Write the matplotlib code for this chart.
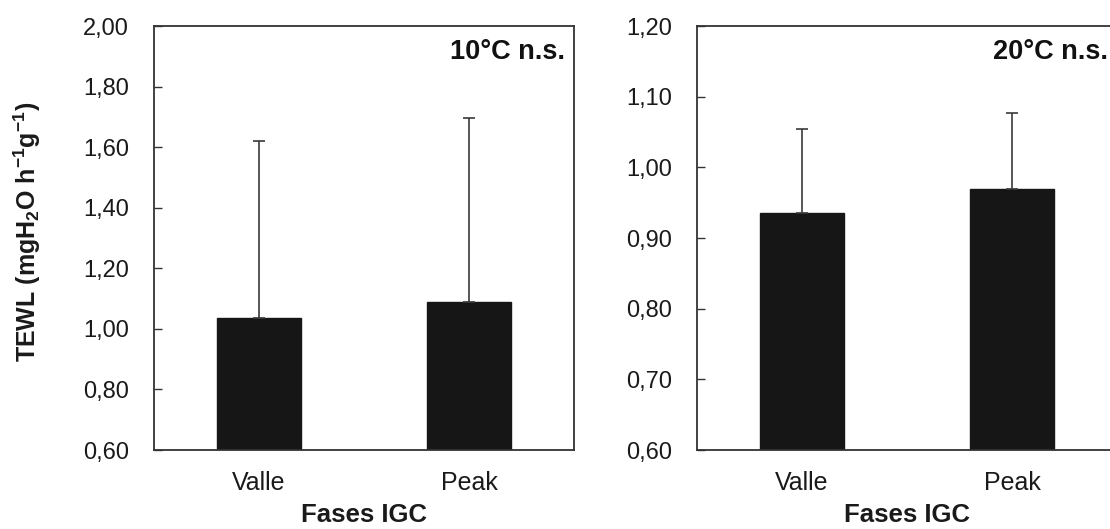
import matplotlib
matplotlib.use('Agg')
import matplotlib.pyplot as plt
from matplotlib.transforms import blended_transform_factory

plt.rcParams['font.family'] = ['Liberation Sans', 'DejaVu Sans']
plt.rcParams['mathtext.fontset'] = 'custom'
plt.rcParams['mathtext.rm'] = 'Liberation Sans:bold'
plt.rcParams['mathtext.bf'] = 'Liberation Sans:bold'

# data
phases = ['Valle', 'Peak']
tewl_10 = [1.035, 1.088]
err_10 = [0.585, 0.607]
tewl_20 = [0.936, 0.970]
err_20 = [0.118, 0.107]

yticks_10 = [0.6, 0.8, 1.0, 1.2, 1.4, 1.6, 1.8, 2.0]
yticks_20 = [0.6, 0.7, 0.8, 0.9, 1.0, 1.1, 1.2]

fig = plt.figure(figsize=(11.1, 5.29), dpi=100)
ax1 = fig.add_axes([0.1387, 0.1493, 0.3784, 0.8015])
ax2 = fig.add_axes([0.6279, 0.1493, 0.3784, 0.8015])

panels = [
    (ax1, tewl_10, err_10, yticks_10, '10°C n.s.'),
    (ax2, tewl_20, err_20, yticks_20, '20°C n.s.'),
]

for ax, vals, errs, yt, tag in panels:
    x = list(range(len(phases)))
    ax.bar(x, [v - yt[0] for v in vals], width=0.40, bottom=yt[0],
           color='#161616', edgecolor='#161616', zorder=2)
    ax.errorbar(x, vals, yerr=[[0] * len(errs), errs], fmt='none',
                ecolor='#3a3a3a', elinewidth=1.2, capsize=4.5, capthick=1.2, zorder=3)
    ax.set_xlim(-0.5, 1.5)
    ax.set_ylim(yt[0], yt[-1])
    ax.set_yticks(yt)
    ax.set_yticklabels([('%.2f' % t).replace('.', ',') for t in yt], fontsize=17)
    ax.tick_params(axis='y', direction='in', length=6, width=1.0, pad=18,
                   color='#333333', labelcolor='#1a1a1a')
    ax.set_xticks(x)
    ax.set_xticklabels(phases, fontsize=18, color='#1a1a1a')
    ax.tick_params(axis='x', length=0, pad=15)
    for sp in ax.spines.values():
        sp.set_linewidth(1.3)
        sp.set_color('#333333')
    ax.text(0.978, 0.939, tag, transform=ax.transAxes, ha='right', va='center',
            fontsize=19.5, fontweight='bold', color='#111111')
    trans = blended_transform_factory(ax.transData, ax.transAxes)
    ax.text(0.5, -0.153, 'Fases IGC', transform=trans, ha='center', va='center',
            fontsize=18.5, fontweight='bold', color='#1a1a1a')

fig.text(27.5 / 1110, 1 - 232 / 529, r'TEWL (mgH$_{2}$O h$^{-1}$g$^{-1}$)',
         rotation=90, ha='center', va='center', fontsize=18, fontweight='bold',
         color='#1a1a1a')

fig.savefig('out.png', dpi=100)
